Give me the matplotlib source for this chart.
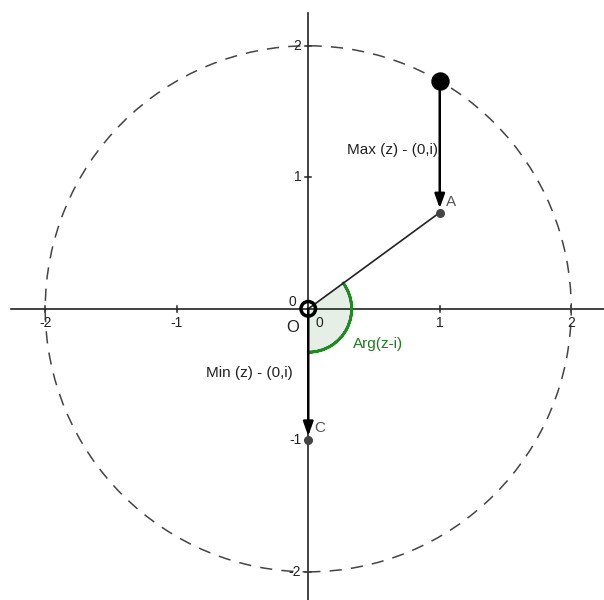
import matplotlib
matplotlib.use("Agg")
import matplotlib.pyplot as plt
from matplotlib.patches import Circle, Wedge, FancyArrowPatch

plt.rcParams["font.family"] = ["Liberation Sans", "DejaVu Sans"]

# geometry
circle_radius = 2
tick_values = [-2, -1, 1, 2]
tip_x, tip_y = 1, 1.732          # point on the circle, max distance
point_names = ["A", "C"]
point_x = [1, 0]
point_y = [0.732, -1]
arg_start, arg_end = -90, 36.2   # angle sector at the origin, degrees
arg_radius = 0.33

XLIM = (-2.344, 2.249)
YLIM = (-2.214, 2.348)
FS = 11

fig = plt.figure(figsize=(6.04, 6.0), dpi=100)
ax = fig.add_axes([0, 0, 1, 1])
ax.set_xlim(*XLIM)
ax.set_ylim(*YLIM)
ax.set_aspect("equal")
ax.axis("off")

px = 1 / 131.5  # one pixel in data units

# axes
ax.plot([-2.26, XLIM[1]], [0, 0], color="#222222", lw=1.2, zorder=1)
ax.plot([0, 0], [YLIM[0], 2.25], color="#222222", lw=1.2, zorder=1)
for t in tick_values:
    ax.plot([t, t], [-3 * px, 3 * px], color="#222222", lw=1.1, zorder=1)
    ax.plot([-3 * px, 3 * px], [t, t], color="#222222", lw=1.1, zorder=1)
    ax.text(t, -14 * px, str(t), ha="center", va="center", fontsize=FS - 1, color="#222222")
    ax.text(-7 * px, t, str(t), ha="right", va="center", fontsize=FS - 1, color="#222222")
ax.text(-16 * px, 7 * px, "0", ha="center", va="center", fontsize=FS - 1, color="#222222")
ax.text(11 * px, -14 * px, "0", ha="center", va="center", fontsize=FS - 1, color="#222222")

# dashed circle
ax.add_patch(Circle((0, 0), circle_radius, fill=False, edgecolor="#444444", lw=1.1,
                    linestyle=(0, (8, 6)), zorder=1))

# angle sector
ax.add_patch(Wedge((0, 0), arg_radius, arg_start, arg_end, facecolor="#006400", alpha=0.1,
                   edgecolor="none", zorder=2))
ax.add_patch(Wedge((0, 0), arg_radius, arg_start, arg_end, width=0.0001, facecolor="none",
                   edgecolor="#1e8c1e", lw=2, zorder=2))
ax.text(0.34, -0.27, "Arg(z-i)", ha="left", va="center", fontsize=FS, color="#1e7a1e")

# segment O -> A
ax.plot([0, point_x[0]], [0, point_y[0]], color="#222222", lw=1.2, zorder=3)

# vectors
for (x0, y0), (x1, y1) in [((tip_x, tip_y), (point_x[0], point_y[0])),
                           ((0, 0), (point_x[1], point_y[1]))]:
    ax.add_patch(FancyArrowPatch((x0, y0), (x1, y1),
                                 arrowstyle="-|>,head_length=0.85,head_width=0.3",
                                 mutation_scale=10, color="black", lw=1.8,
                                 shrinkA=0, shrinkB=3, zorder=4))

ax.text(0.985, 1.205, "Max (z) - (0,i)", ha="right", va="center", fontsize=FS, color="#222222")
ax.text(-0.12, -0.485, "Min (z) - (0,i)", ha="right", va="center", fontsize=FS, color="#222222")

# points
ax.scatter([tip_x], [tip_y], s=150, color="black", zorder=5)
ax.scatter(point_x, point_y, s=30, color="#444444", zorder=5)
ax.text(point_x[0] + 6 * px, point_y[0] + 11 * px, point_names[0], ha="left", va="center",
        fontsize=FS, color="#555555")
ax.text(point_x[1] + 6 * px, point_y[1] + 12 * px, point_names[1], ha="left", va="center",
        fontsize=FS, color="#555555")

# origin
ax.scatter([0], [0], s=110, facecolor="none", edgecolor="black", linewidths=2.5, zorder=6)
ax.text(-16 * px, -19 * px, "O", ha="center", va="center", fontsize=FS + 1, color="#222222")

fig.savefig("out.png", dpi=100, facecolor="white")
